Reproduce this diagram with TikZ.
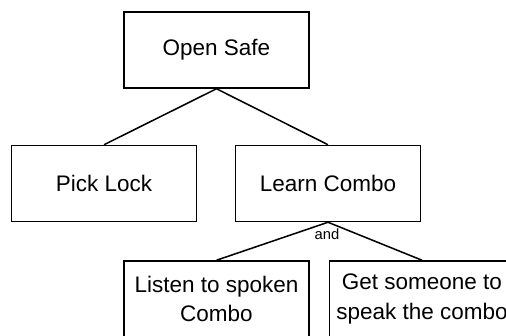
\documentclass[tikz,border=0pt]{standalone}
\usepackage{fontspec}
\setmainfont{Liberation Sans}

\begin{document}
\begin{tikzpicture}[
  goalbox/.style={draw, line width=1.3pt, minimum width=5.550cm, minimum height=2.280cm,
    align=center, inner sep=0pt, font=\fontsize{19.2}{24.8}\selectfont},
  treeedge/.style={line width=1.3pt},
  gatelabel/.style={inner sep=0pt, font=\fontsize{12.6}{14}\selectfont}]
\useasboundingbox (0,0) rectangle (15.180,10.080);
\clip (0,0) rectangle (15.180,10.080);
\node[goalbox] (open) at (6.495,8.580) {Open Safe};
\node[goalbox] (pick) at (3.120,4.575) {Pick Lock};
\node[goalbox] (learn) at (9.840,4.575) {Learn Combo};
\node[goalbox] (listen) at (6.495,1.110) {Listen to spoken\\Combo};
\node[goalbox] (someone) at (12.660,1.110) {Get someone to\\speak the combo};
\node[gatelabel] (and) at (9.810,3.060) {and};
\draw[treeedge] (open.south) -- (pick.north);
\draw[treeedge] (open.south) -- (learn.north);
\draw[treeedge] (learn.south) -- (listen.north);
\draw[treeedge] (learn.south) -- (someone.north);
\end{tikzpicture}
\end{document}
